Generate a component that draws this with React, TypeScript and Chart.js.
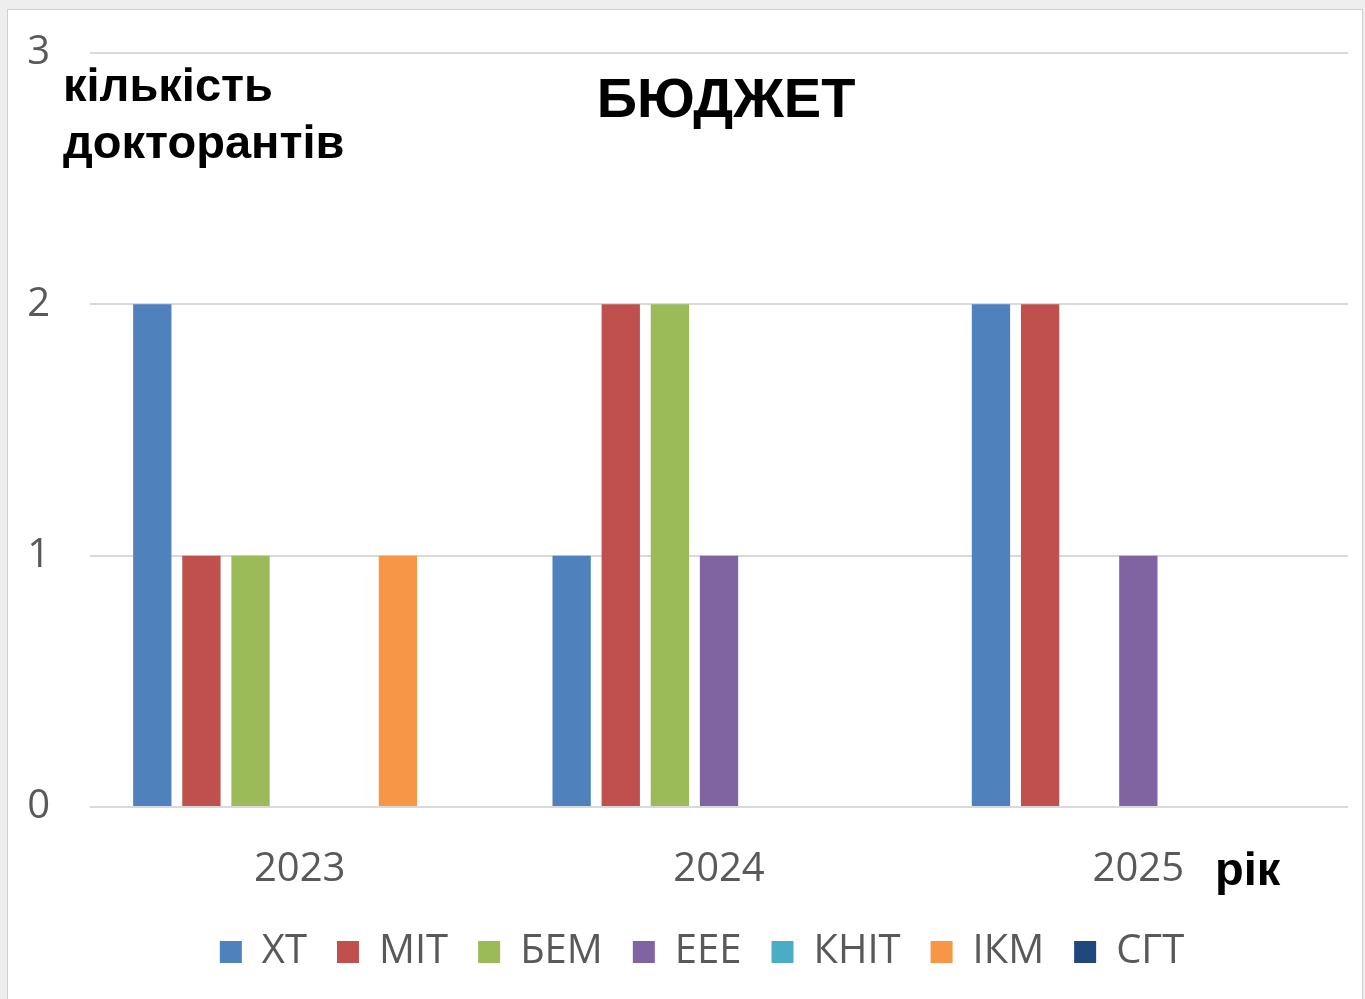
import React, { useEffect, useRef } from "react";
import { Chart, registerables } from "chart.js";

Chart.register(...registerables);

const categories = ["2023", "2024", "2025"];
const seriesNames = ["ХТ", "МІТ", "БЕМ", "ЕЕЕ", "КНІТ", "ІКМ", "СГТ"];
const valuesXT = [2, 1, 2];
const valuesMIT = [1, 2, 2];
const valuesBEM = [1, 2, 0];
const valuesEEE = [0, 1, 1];
const valuesKNIT = [0, 0, 0];
const valuesIKM = [1, 0, 0];
const valuesSGT = [0, 0, 0];
const seriesColors = ["#4F81BD", "#C0504D", "#9BBB59", "#8064A2", "#4BACC6", "#F79646", "#1F497D"];
const yTicks = [0, 1, 2, 3];
const titleText = "БЮДЖЕТ";
const yLabelLines = ["кількість", "докторантів"];
const xLabelText = "рік";

const tickFont = "'Open Sans', sans-serif";
const boldFont = "'Liberation Sans', Arial, sans-serif";

const legendShift = {
  id: "legendShift",
  afterLayout(chart: any) {
    if (chart.legend) {
      chart.legend.left += 14;
      chart.legend.right += 14;
    }
  },
};

const textPlugin = {
  id: "extraText",
  afterDraw(chart: any) {
    const ctx = chart.ctx;
    ctx.save();
    ctx.fillStyle = "#000000";
    ctx.textBaseline = "alphabetic";
    ctx.font = `bold 56px ${boldFont}`;
    ctx.textAlign = "center";
    ctx.fillText(titleText, 726, 117);
    ctx.font = `bold 47px ${boldFont}`;
    ctx.textAlign = "left";
    ctx.fillText(yLabelLines[0], 63, 101);
    ctx.fillText(yLabelLines[1], 63, 158);
    ctx.fillText(xLabelText, 1215, 885);
    ctx.restore();
  },
};

export default function App() {
  const ref = useRef<HTMLCanvasElement | null>(null);
  useEffect(() => {
    document.body.style.margin = "0";
    const all = [valuesXT, valuesMIT, valuesBEM, valuesEEE, valuesKNIT, valuesIKM, valuesSGT];
    const chart = new Chart(ref.current as HTMLCanvasElement, {
      type: "bar",
      data: {
        labels: categories,
        datasets: seriesNames.map((name, i) => ({
          label: name,
          data: all[i],
          backgroundColor: seriesColors[i],
          borderWidth: 0,
          categoryPercentage: 0.82,
          barPercentage: 0.78,
        })),
      },
      options: {
        animation: false,
        responsive: false,
        maintainAspectRatio: false,
        layout: { padding: { left: 28, right: 17, top: 53, bottom: 17 } },
        plugins: {
          title: { display: false },
          tooltip: { enabled: false },
          legend: {
            position: "bottom",
            labels: {
              boxWidth: 22,
              boxHeight: 22,
              padding: 30,
              color: "#595959",
              font: { family: tickFont, size: 40 },
            },
          },
        },
        scales: {
          x: {
            grid: { display: false, drawTicks: false },
            border: { display: false },
            ticks: { color: "#595959", font: { family: tickFont, size: 40 }, padding: 39 },
            afterFit: (s: any) => {
              s.height = 95;
              s.paddingLeft = 0;
              s.paddingRight = 0;
            },
          },
          y: {
            min: 0,
            max: 3,
            afterBuildTicks: (s: any) => {
              s.ticks = yTicks.map((v) => ({ value: v }));
            },
            grid: { color: "#D9D9D9", lineWidth: 2, drawTicks: false },
            border: { display: false },
            ticks: {
              color: "#595959",
              font: { family: tickFont, size: 40 },
              crossAlign: "near",
              padding: 40,
            },
            afterFit: (s: any) => {
              s.width = 62;
              s.paddingTop = 0;
              s.paddingBottom = 0;
            },
          },
        },
      },
      plugins: [legendShift, textPlugin],
    });
    return () => chart.destroy();
  }, []);
  return (
    <div style={{ position: "fixed", left: 0, top: 0, width: 1365, height: 999, background: "#EEEEEE" }}>
      <div
        style={{
          position: "absolute",
          left: 7,
          top: 9,
          width: 1354,
          height: 990,
          background: "#FFFFFF",
          borderLeft: "1px solid #D0D0D0",
          borderTop: "1px solid #D0D0D0",
          borderRight: "1px solid #D0D0D0",
        }}
      />
      <canvas ref={ref} width={1365} height={999} style={{ position: "absolute", left: 0, top: 0 }} />
    </div>
  );
}
